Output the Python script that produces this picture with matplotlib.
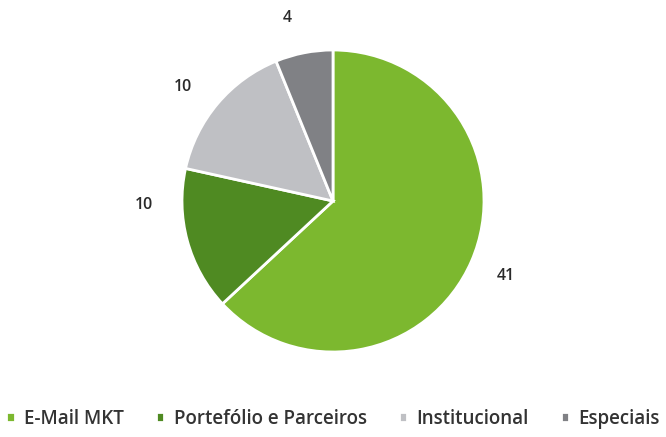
import numpy as np
import matplotlib.pyplot as plt

categorias = ['E-Mail MKT', 'Portefólio e Parceiros', 'Institucional', 'Especiais']
valores = [41, 10, 10, 4]
cores = ['#7cb82f', '#4f8a22', '#bfc0c4', '#808185']

plt.rcParams['font.family'] = ['Open Sans', 'DejaVu Sans']

fig = plt.figure(figsize=(6.66, 4.37), dpi=100)
# pie centre ~ (333, 201) px, radius ~151 px
R = 151
ax = fig.add_axes([(333 - R)/666, 1 - (201 + R)/437, 2*R/666, 2*R/437])

wedges, textos = ax.pie(valores, colors=cores, startangle=90, counterclock=False,
                        wedgeprops=dict(edgecolor='white', linewidth=2))
ax.set_xlim(-1, 1)
ax.set_ylim(-1, 1)
ax.set_aspect('equal')

# rotulos fora da fatia (Excel "melhor ajuste" puxa o de baixo-esquerda um pouco para cima)
ajuste_ang = [0, -14, 3, 3]
for w, v, da in zip(wedges, valores, ajuste_ang):
    ang = np.deg2rad((w.theta1 + w.theta2) / 2 + da)
    ax.text(1.25 * np.cos(ang), 1.25 * np.sin(ang), str(v), ha='center', va='center',
            fontsize=11.5, color='#2a2a2a', fontweight='semibold')

fig.legend(wedges, categorias, loc='center', bbox_to_anchor=(0.5, 1 - 419/437),
           ncol=4, frameon=False, handlelength=0.45, handleheight=0.45,
           handletextpad=0.5, columnspacing=1.7, labelcolor='#333333',
           prop=dict(family=['Open Sans', 'DejaVu Sans'], size=13.5, weight='semibold'))

fig.savefig('out.png', dpi=100)
